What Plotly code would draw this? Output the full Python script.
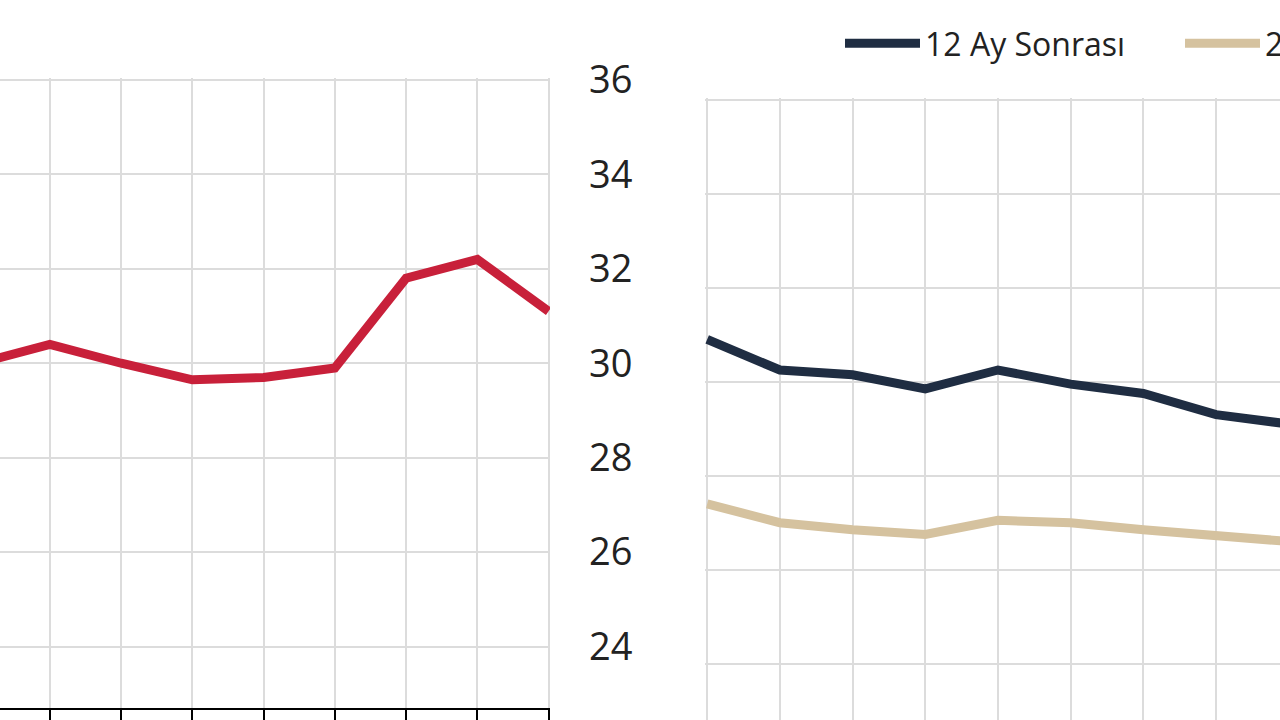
import plotly.graph_objects as go

# values (index = month position on the grid)
left_x = [-1, 0, 1, 2, 3, 4, 5, 6, 7]
cari_yil_sonu = [30.0, 30.4, 30.0, 29.65, 29.7, 29.9, 31.8, 32.2, 31.1]

right_x = [0, 1, 2, 3, 4, 5, 6, 7, 8]
ay12_sonrasi = [30.9, 30.25, 30.15, 29.85, 30.25, 29.95, 29.75, 29.3, 29.1]
ay24_sonrasi = [27.4, 27.0, 26.85, 26.75, 27.05, 27.0, 26.85, 26.7, 26.6]

y_ticks = [24, 26, 28, 30, 32, 34, 36]

W, H = 1280, 720
RED = '#c8203a'
NAVY = '#1f2d42'
BEIGE = '#d5c29f'
GRID = '#dcdcdc'

fig = go.Figure()

fig.add_trace(go.Scatter(x = left_x, y = cari_yil_sonu,
                         name = 'Cari Yıl Sonu',
                         mode = 'lines',
                         line = dict(color = RED, width = 9),
                         showlegend = False,
                         xaxis = 'x', yaxis = 'y'))

fig.add_trace(go.Scatter(x = right_x, y = ay12_sonrasi,
                         name = '12 Ay Sonrası',
                         mode = 'lines',
                         line = dict(color = NAVY, width = 9),
                         xaxis = 'x2', yaxis = 'y2'))

fig.add_trace(go.Scatter(x = right_x, y = ay24_sonrasi,
                         name = '24 Ay Sonrası',
                         mode = 'lines',
                         line = dict(color = BEIGE, width = 9),
                         xaxis = 'x2', yaxis = 'y2'))

# px -> paper helpers
def px_x(p):
    return p / W

def px_y(p):
    return 1 - p / H

grid = dict(showgrid = True, gridcolor = GRID, gridwidth = 2, zeroline = False)

fig.update_layout(
    width = W, height = H,
    margin = dict(l = 0, r = 0, t = 0, b = 0, autoexpand = False),
    paper_bgcolor = 'white',
    plot_bgcolor = 'white',
    font = dict(family = 'Open Sans', color = '#222222'),
    # left panel
    xaxis = dict(domain = [0, px_x(550)], range = [-0.7, 7.02], dtick = 1, tick0 = 0,
                 showticklabels = False, showline = True, linecolor = 'black', linewidth = 2,
                 ticks = 'outside', ticklen = 10, tickwidth = 2, tickcolor = 'black',
                 anchor = 'y', **grid),
    yaxis = dict(domain = [px_y(708), px_y(78)], range = [22.7, 36.04],
                 tickvals = y_ticks, side = 'right', ticks = '',
                 ticklabelstandoff = 38, tickfont = dict(size = 38),
                 anchor = 'x', **grid),
    # right panel
    xaxis2 = dict(domain = [px_x(705), 1], range = [-0.03, 7.88], dtick = 1, tick0 = 0,
                  showticklabels = False, anchor = 'y2', **grid),
    yaxis2 = dict(domain = [0, px_y(98)], range = [22.8, 36.04],
                  tickvals = y_ticks, showticklabels = False,
                  anchor = 'x2', **grid),
    legend = dict(orientation = 'h', x = px_x(840), y = px_y(16),
                  xanchor = 'left', yanchor = 'top',
                  itemwidth = 75, entrywidth = 250,
                  font = dict(size = 32, color = '#222222'),
                  bgcolor = 'rgba(0,0,0,0)'),
)

# drop the default page margin so the figure sits at the window's corner
fig.write_html('out.html', config = {'displayModeBar': False},
               post_script = "document.body.style.margin = '0';")
